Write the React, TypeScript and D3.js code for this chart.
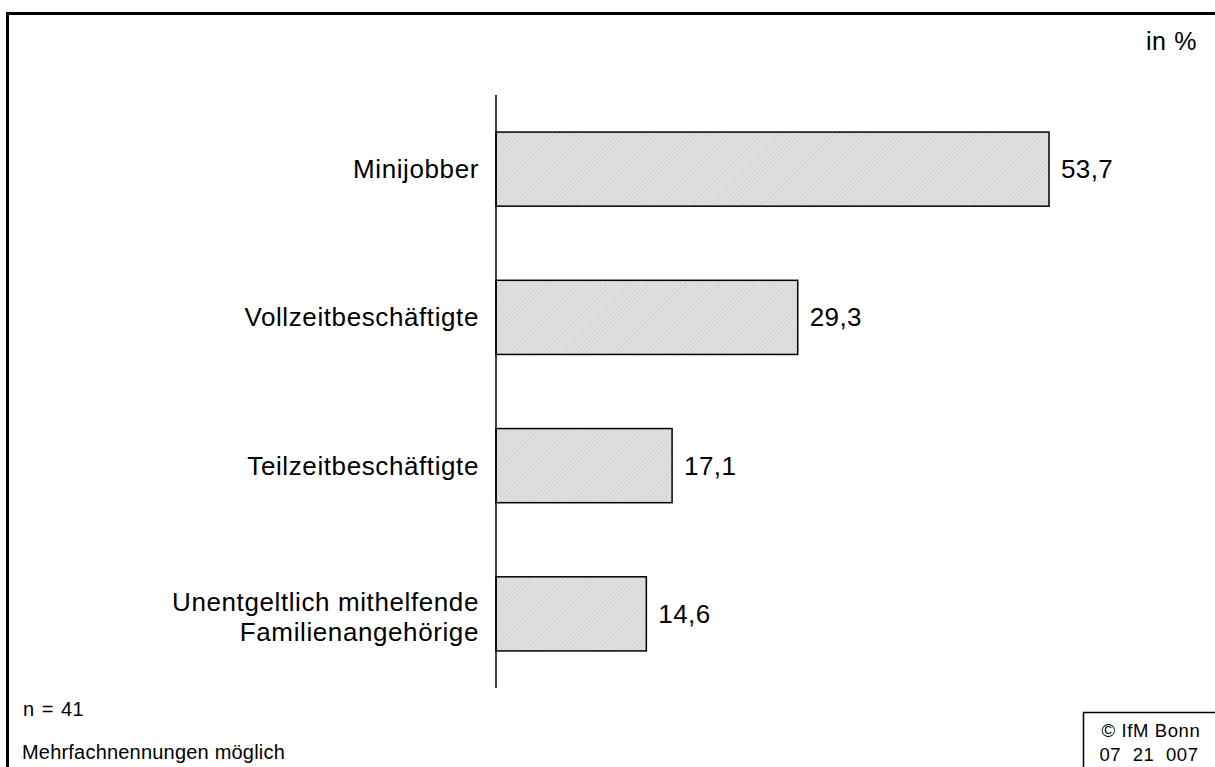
import { useEffect, useRef } from 'react';
import * as d3 from 'd3';

const categories = [
  ['Minijobber'],
  ['Vollzeitbeschäftigte'],
  ['Teilzeitbeschäftigte'],
  ['Unentgeltlich mithelfende', 'Familienangehörige'],
];
const values = [53.7, 29.3, 17.1, 14.6];
const valueLabels = ['53,7', '29,3', '17,1', '14,6'];

const W = 1215;
const H = 767;
const FONT = '"Liberation Sans", Arial, sans-serif';

const App = () => {
  const svgRef = useRef<SVGSVGElement>(null);

  useEffect(() => {
    const svg = d3.select(svgRef.current);
    svg.selectAll('*').remove();

    const axisX = 496;
    const top = 95;
    const bottom = 688;

    const x = d3.scaleLinear().domain([0, 53.7]).range([axisX, 1049]);
    const y = d3.scaleBand<number>()
      .domain(d3.range(values.length))
      .range([top, bottom])
      .paddingInner(0.5)
      .paddingOuter(0.25);

    // hatch pattern for bars
    const defs = svg.append('defs');
    const pat = defs.append('pattern')
      .attr('id', 'hatch')
      .attr('patternUnits', 'userSpaceOnUse')
      .attr('width', 3)
      .attr('height', 3)
      .attr('patternTransform', 'rotate(45)');
    pat.append('rect').attr('width', 3).attr('height', 3).attr('fill', '#e2e2e2');
    pat.append('line')
      .attr('x1', 0).attr('y1', 0).attr('x2', 0).attr('y2', 3)
      .attr('stroke', '#c4c4c4').attr('stroke-width', 1.2);

    // frame
    svg.append('path')
      .attr('d', `M7.5,${H} V13.5 H${W}`)
      .attr('fill', 'none')
      .attr('stroke', '#000')
      .attr('stroke-width', 3);

    svg.append('text')
      .attr('x', 1197).attr('y', 50)
      .attr('text-anchor', 'end')
      .attr('font-size', 25)
      .attr('letter-spacing', 0.6)
      .text('in %');

    const g = svg.append('g');

    g.selectAll('rect.bar')
      .data(values)
      .join('rect')
      .attr('class', 'bar')
      .attr('x', x(0))
      .attr('y', (d, i) => y(i)!)
      .attr('width', d => x(d) - x(0))
      .attr('height', y.bandwidth())
      .attr('fill', 'url(#hatch)')
      .attr('stroke', '#000')
      .attr('stroke-width', 1.5);

    g.selectAll('text.val')
      .data(values)
      .join('text')
      .attr('class', 'val')
      .attr('x', d => x(d) + 12)
      .attr('y', (d, i) => y(i)! + y.bandwidth() / 2)
      .attr('dy', '0.35em')
      .attr('font-size', 26)
      .attr('letter-spacing', 0.4)
      .text((d, i) => valueLabels[i]);

    categories.forEach((lines, i) => {
      const cy = y(i)! + y.bandwidth() / 2 + (lines.length > 1 ? 3 : 0);
      const lh = 30;
      const t = g.append('text')
        .attr('text-anchor', 'end')
        .attr('font-size', 26)
        .attr('letter-spacing', 0.6);
      lines.forEach((ln, j) => {
        t.append('tspan')
          .attr('x', 479)
          .attr('y', cy + (j - (lines.length - 1) / 2) * lh)
          .attr('dy', '0.35em')
          .text(ln);
      });
    });

    // axis line
    g.append('line')
      .attr('x1', axisX).attr('x2', axisX)
      .attr('y1', top).attr('y2', bottom)
      .attr('stroke', '#000')
      .attr('stroke-width', 1.5);

    svg.append('text')
      .attr('x', 23).attr('y', 716)
      .attr('font-size', 20)
      .attr('letter-spacing', 0.3)
      .attr('word-spacing', 1.5)
      .text('n = 41');
    svg.append('text')
      .attr('x', 22).attr('y', 759)
      .attr('font-size', 20)
      .attr('letter-spacing', 0.2)
      .text('Mehrfachnennungen möglich');

    // copyright box
    svg.append('path')
      .attr('d', `M${W},712.5 H1083.5 V${H}`)
      .attr('fill', 'none')
      .attr('stroke', '#000')
      .attr('stroke-width', 1.5);
    svg.append('text')
      .attr('x', 1151).attr('y', 737)
      .attr('text-anchor', 'middle')
      .attr('font-size', 18.5)
      .attr('letter-spacing', 0.6)
      .text('© IfM Bonn');
    svg.append('text')
      .attr('x', 1149).attr('y', 761)
      .attr('text-anchor', 'middle')
      .attr('font-size', 18.5)
      .attr('letter-spacing', 0.6)
      .attr('xml:space', 'preserve')
      .style('white-space', 'pre')
      .text('07  21  007');
  }, []);

  return (
    <div style={{ position: 'absolute', left: 0, top: 0 }}>
      <svg ref={svgRef} width={W} height={H} style={{ display: 'block', fontFamily: FONT, background: '#fff' }} />
    </div>
  );
};

export default App;
